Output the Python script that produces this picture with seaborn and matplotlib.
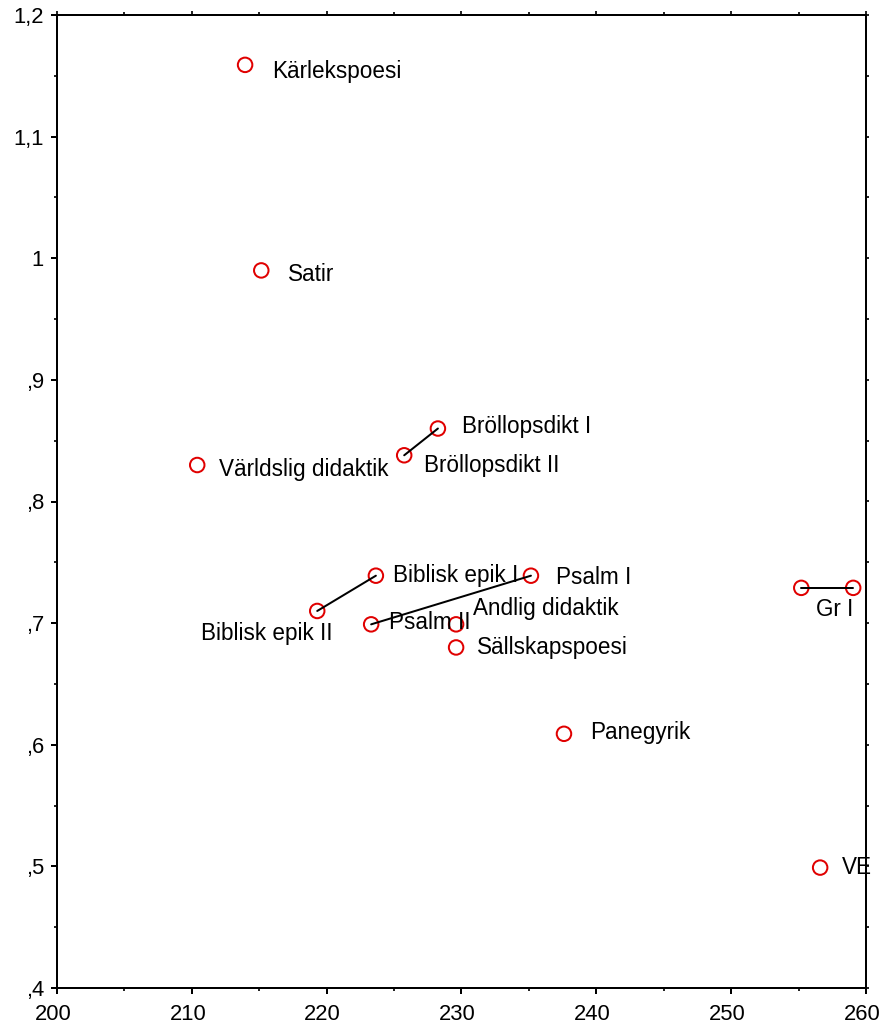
import matplotlib
matplotlib.use("Agg")
import matplotlib.pyplot as plt
import matplotlib.transforms as mtransforms
import seaborn as sns
import pandas as pd
import numpy as np

labels = ["Kärlekspoesi", "Satir", "Bröllopsdikt I", "Bröllopsdikt II", "Världslig didaktik",
          "Biblisk epik I", "Biblisk epik II", "Psalm I", "Psalm II", "Andlig didaktik",
          "Sällskapspoesi", "Panegyrik", "Gr II", "Gr I", "VE"]
x_vals = [213.95, 215.15, 228.25, 225.75, 210.4,
          223.65, 219.3, 235.15, 223.3, 229.6,
          229.6, 237.6, 255.2, 259.05, 256.6]
y_vals = [1.159, 0.990, 0.860, 0.838, 0.830,
          0.739, 0.710, 0.739, 0.699, 0.699,
          0.680, 0.609, 0.729, 0.729, 0.499]
shown_text = ["Kärlekspoesi", "Satir", "Bröllopsdikt I", "Bröllopsdikt II", "Världslig didaktik",
              "Biblisk epik I", "Biblisk epik II", "Psalm I", "Psalm II", "Andlig didaktik",
              "Sällskapspoesi", "Panegyrik", "", "Gr I", "VE"]
pairs = [("Bröllopsdikt I", "Bröllopsdikt II"), ("Biblisk epik I", "Biblisk epik II"),
         ("Psalm I", "Psalm II"), ("Gr II", "Gr I")]

# label offsets (pixels right, pixels down) relative to point
offsets = {
    "Kärlekspoesi": (27, 7), "Satir": (27, 4), "Bröllopsdikt I": (24, -2),
    "Bröllopsdikt II": (20, 10), "Världslig didaktik": (22, 4),
    "Biblisk epik I": (17, 0), "Biblisk epik II": (-116, 23), "Psalm I": (25, 2),
    "Psalm II": (18, -2), "Andlig didaktik": (17, -16), "Sällskapspoesi": (21, 0),
    "Panegyrik": (26, -1), "Gr I": (-37, 22), "VE": (22, 0),
}

x_ticks = [200, 210, 220, 230, 240, 250, 260]
y_ticks = [0.4, 0.5, 0.6, 0.7, 0.8, 0.9, 1.0, 1.1, 1.2]
y_tick_labels = [",4", ",5", ",6", ",7", ",8", ",9", "1", "1,1", "1,2"]

df = pd.DataFrame({"label": labels, "x": x_vals, "y": y_vals})

sns.set_theme(style="white")
plt.rcParams['font.family'] = ['Liberation Sans', 'DejaVu Sans']

FS = 22.5
TFS = 22
DPI = 72
fig = plt.figure(figsize=(882 / DPI, 1027 / DPI), dpi=DPI)
ax = fig.add_axes([57 / 882, 1 - 988 / 1027, (866 - 57) / 882, (988 - 15) / 1027])

sns.scatterplot(data=df, x="x", y="y", ax=ax, marker="o", s=210,
                facecolors="none", edgecolor="#e00000", linewidth=2, zorder=3)

pos = df.set_index("label")
for a, b in pairs:
    ax.plot([pos.loc[a, "x"], pos.loc[b, "x"]], [pos.loc[a, "y"], pos.loc[b, "y"]],
            color="black", lw=2, zorder=4)

for lab, txt in zip(labels, shown_text):
    if not txt:
        continue
    dx, dy = offsets[lab]
    ax.annotate(txt, (pos.loc[lab, "x"], pos.loc[lab, "y"]), xytext=(dx, -dy),
                textcoords="offset points", ha="left", va="center", fontsize=FS,
                color="black", zorder=5)

ax.set_xlim(200, 260)
ax.set_ylim(0.4, 1.2)
ax.set_xticks(x_ticks)
ax.set_xticklabels([str(v) for v in x_ticks])
ax.set_yticks(y_ticks)
ax.set_yticklabels(y_tick_labels)
ax.set_xticks(np.arange(205, 260, 10), minor=True)
ax.set_yticks(np.arange(0.45, 1.2, 0.1), minor=True)
ax.set_xlabel("")
ax.set_ylabel("")

for s in ax.spines.values():
    s.set_linewidth(2)
    s.set_color("black")
    s.set_visible(True)

ax.tick_params(axis="both", which="major", direction="out", length=6, width=2,
               labelsize=TFS, colors="black", bottom=True, left=True)
ax.tick_params(axis="both", which="minor", direction="out", length=3, width=2,
               bottom=True, left=True)
ax.tick_params(axis="x", which="major", pad=10)
ax.tick_params(axis="y", which="major", pad=7)
ax.grid(False)

shift = mtransforms.ScaledTranslation(-4 / DPI, 0, fig.dpi_scale_trans)
for t in ax.get_xticklabels():
    t.set_transform(t.get_transform() + shift)

# secondary ticks on top and right (short, outward)
axt = ax.secondary_xaxis("top")
axt.set_xticks(x_ticks)
axt.set_xticks(np.arange(205, 260, 10), minor=True)
axt.tick_params(which="major", direction="out", length=4, width=2)
axt.tick_params(which="minor", direction="out", length=3, width=2)
axt.set_xticklabels([])
axr = ax.secondary_yaxis("right")
axr.set_yticks(y_ticks)
axr.set_yticks(np.arange(0.45, 1.2, 0.1), minor=True)
axr.tick_params(which="both", direction="out", length=3, width=2)
axr.set_yticklabels([])
for sa in (axt, axr):
    for s in sa.spines.values():
        s.set_linewidth(2)

fig.savefig("out.png", dpi=DPI, facecolor="white")
